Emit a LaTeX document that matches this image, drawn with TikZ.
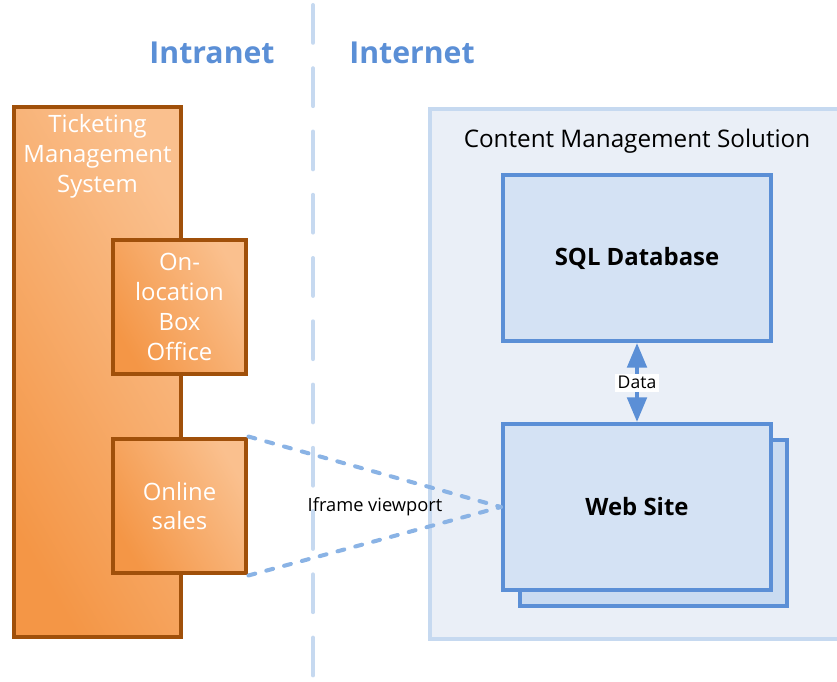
\documentclass[tikz,border=0pt]{standalone}
\usepackage{fontspec}
\setmainfont{Open Sans}
\usetikzlibrary{arrows.meta}

\definecolor{tmsline}{RGB}{160,80,10}
\definecolor{tmsdark}{RGB}{244,150,70}
\definecolor{tmsmid}{RGB}{246,166,98}
\definecolor{tmslight}{RGB}{250,192,142}
\definecolor{netblue}{RGB}{91,143,214}
\definecolor{sepblue}{RGB}{198,217,240}
\definecolor{cmsfill}{RGB}{234,239,247}
\definecolor{boxfill}{RGB}{212,226,244}
\definecolor{backfill}{RGB}{201,219,241}
\definecolor{iframeblue}{RGB}{138,179,229}

\tikzset{
  tmsbox/.style={draw=tmsline,line width=2.8pt,left color=tmsdark,middle color=tmsmid,right color=tmslight,shading angle=120,
    font=\fontsize{13.6}{17}\selectfont,text=white,align=center,inner sep=0pt},
  cmsbox/.style={draw=netblue,line width=2.3pt,fill=boxfill,
    font=\bfseries\fontsize{13.6}{16}\selectfont,inner sep=0pt},
  zonelabel/.style={text=netblue,font=\bfseries\fontsize{17.2}{20}\selectfont},
  iframe/.style={draw=iframeblue,line width=2.3pt,line cap=round,dash pattern=on 4pt off 6.5pt}
}

\begin{document}
\begin{tikzpicture}
  \useasboundingbox (0,0) rectangle (16.74,-13.62);
  \clip (0,0) rectangle (16.74,-13.62);
  % zones
  \draw[sepblue,line width=2.3pt,line cap=round,dash pattern=on 21.5pt off 14.5pt] (6.26,-0.1)--(6.26,-13.7);
  \node[zonelabel] (intranet) at (4.24,-1.06){Intranet};
  \node[zonelabel] (internet) at (8.24,-1.06){Internet};
  % ticketing side
  \node[tmsbox,minimum width=3.34cm,minimum height=10.6cm] (tms) at (1.95,-7.44){};
  \node[text=white,align=center,font=\fontsize{13.6}{17}\selectfont] (tmstitle) at (1.95,-3.13){Ticketing\\Management\\System};
  \node[tmsbox,minimum width=2.66cm,minimum height=2.68cm] (boxoffice) at (3.59,-6.14){On-\\location\\Box\\Office};
  \node[tmsbox,minimum width=2.66cm,minimum height=2.68cm] (online) at (3.59,-10.12){Online\\sales};
  % content management side
  \node[draw=sepblue,fill=cmsfill,line width=2.3pt,minimum width=8.6cm,minimum height=10.6cm,anchor=north west] (cms) at (8.56,-2.14){};
  \node[font=\fontsize{13.8}{16}\selectfont] (cmstitle) at (12.74,-2.82){Content Management Solution};
  \node[cmsbox,minimum width=5.34cm,minimum height=3.32cm,fill=backfill] (webback) at (13.07,-10.46){};
  \node[cmsbox,minimum width=5.36cm,minimum height=3.32cm] (web) at (12.74,-10.14){Web Site};
  \node[cmsbox,minimum width=5.36cm,minimum height=3.32cm] (sql) at (12.74,-5.16){SQL Database};
  % connections
  \draw[netblue,line width=2.3pt,{Triangle[length=14pt,width=11pt]}-{Triangle[length=14pt,width=11pt]}] (sql.south)--(web.north)
    node[midway,fill=white,text=black,inner sep=1.5pt,font=\fontsize{10}{12}\selectfont] (data){Data};
  \draw[iframe] (online.north east)--(web.west);
  \draw[iframe] (online.south east)--(web.west);
  \node[font=\fontsize{10.4}{12}\selectfont] (viewport) at (7.5,-10.14){Iframe viewport};
\end{tikzpicture}
\end{document}
